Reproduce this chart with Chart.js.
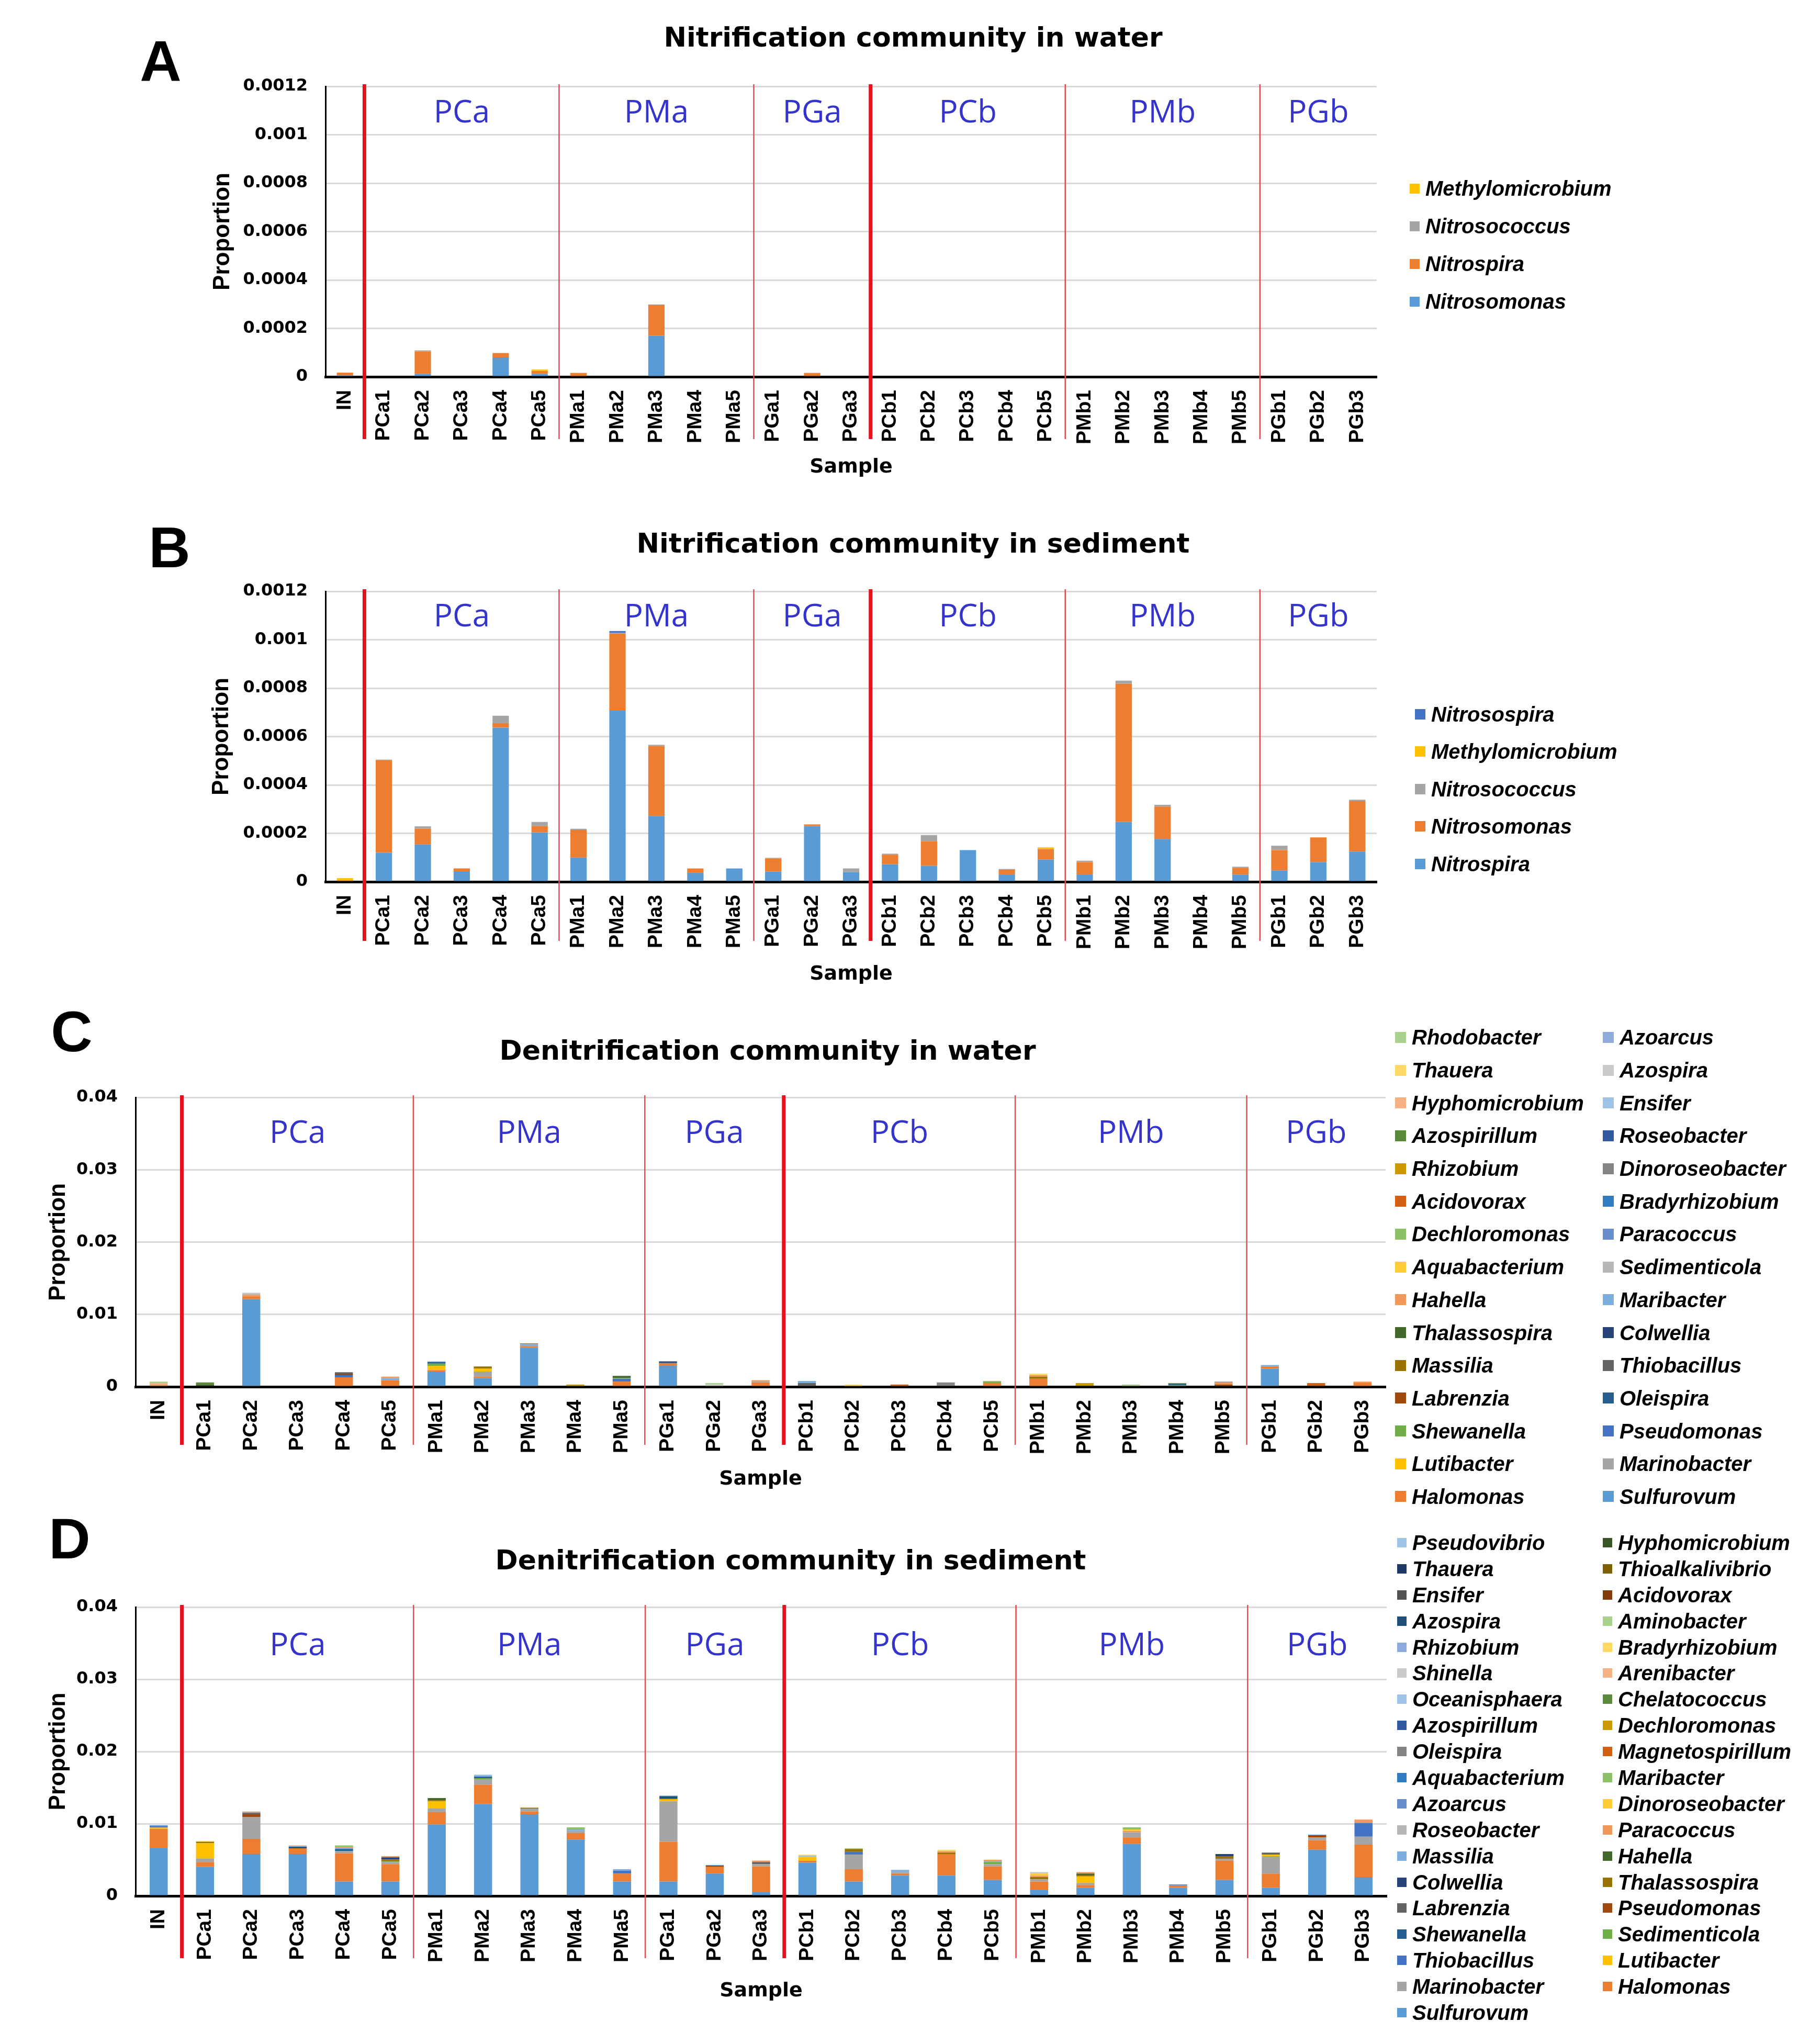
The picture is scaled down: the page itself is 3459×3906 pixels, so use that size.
<!DOCTYPE html>
<html><head><meta charset="utf-8">
<script src="https://cdn.jsdelivr.net/npm/chart.js@4.4.1/dist/chart.umd.min.js"></script>
<style>
html,body{margin:0;padding:0;background:#fff;}
body{width:3459px;height:3906px;position:relative;overflow:hidden;}
canvas{position:absolute;left:0;}
.letter{position:absolute;font-family:'Liberation Sans',Arial,sans-serif;font-weight:bold;font-size:110px;line-height:1;transform:translate(-50%,-50%);color:#000;}
.legend{position:absolute;display:grid;z-index:2;}
.li{display:flex;align-items:center;white-space:nowrap;font-family:'Liberation Sans',Arial,sans-serif;font-weight:bold;font-style:italic;font-size:40px;line-height:1;color:#000;}
.sw{flex:none;display:inline-block;}
</style></head><body>
<canvas id="cA" width="3459" height="950" style="top:0px"></canvas>
<canvas id="cB" width="3459" height="970" style="top:960px"></canvas>
<canvas id="cC" width="3459" height="960" style="top:1930px"></canvas>
<canvas id="cD" width="3459" height="1016" style="top:2890px"></canvas>
<div class="letter" style="left:307px;top:116px">A</div>
<div class="letter" style="left:324px;top:1046px">B</div>
<div class="letter" style="left:137px;top:1971px">C</div>
<div class="letter" style="left:133px;top:2940px">D</div>
<script>
// ---------------- DATA ----------------
const categories = ['IN','PCa1','PCa2','PCa3','PCa4','PCa5','PMa1','PMa2','PMa3','PMa4','PMa5','PGa1','PGa2','PGa3','PCb1','PCb2','PCb3','PCb4','PCb5','PMb1','PMb2','PMb3','PMb4','PMb5','PGb1','PGb2','PGb3'];

const nitTickValues = [0, 0.0002, 0.0004, 0.0006, 0.0008, 0.001, 0.0012];
const nitTickLabels = ['0', '0.0002', '0.0004', '0.0006', '0.0008', '0.001', '0.0012'];
const denTickValues = [0, 0.01, 0.02, 0.03, 0.04];
const denTickLabels = ['0', '0.01', '0.02', '0.03', '0.04'];

// A: Nitrification community in water (bottom to top)
const aNitrosomonas     = [0.000006, 0,0.000012,0,0.00008,0.000012, 0,0,0.00017,0,0, 0,0,0, 0,0,0,0,0, 0,0,0,0,0, 0,0,0];
const aNitrospira       = [0.000011, 0,0.000093,0,0.000018,0.000012, 0.000016,0,0.000126,0,0, 0,0.000016,0, 0,0,0,0,0, 0,0,0,0,0, 0,0,0];
const aNitrosococcus    = [0, 0,0.000004,0,0,0, 0,0,0.000003,0,0, 0,0,0, 0,0,0,0,0, 0,0,0,0,0, 0,0,0];
const aMethylomicrobium = [0, 0,0,0,0,0.000006, 0,0,0,0,0, 0,0,0, 0,0,0,0,0, 0,0,0,0,0, 0,0,0];

// B: Nitrification community in sediment (bottom to top)
const bNitrospira       = [0, 0.00012,0.000154,0.000043,0.000637,0.000204, 0.0001,0.000707,0.000272,0.000037,0.000055, 0.000042,0.00023,0.00004, 0.000072,0.000066,0.000131,0.00003,0.000092, 0.00003,0.000247,0.000177,0,0.00003, 0.000047,0.000081,0.000125];
const bNitrosomonas     = [0.000006, 0.000382,0.000065,0.000012,0.000018,0.000026, 0.000114,0.000318,0.000289,0.000018,0, 0.000054,0.000007,0, 0.00004,0.000101,0,0.00002,0.000043, 0.000051,0.000571,0.000134,0,0.000028, 0.000084,0.000102,0.000208];
const bNitrosococcus    = [0, 0.000003,0.00001,0,0.000031,0.000017, 0.000005,0.000004,0.000005,0,0, 0.000003,0,0.000015, 0.000004,0.000026,0,0.000003,0, 0.000006,0.000013,0.000007,0,0.000004, 0.000018,0,0.000006];
const bMethylomicrobium = [0.000009, 0,0,0,0,0, 0,0,0,0,0, 0,0,0, 0,0,0,0,0.000007, 0,0,0,0,0, 0,0,0];
const bNitrosospira     = [0, 0,0,0,0,0, 0,0.000007,0,0,0, 0,0,0, 0,0,0,0,0, 0,0,0,0,0, 0,0,0];

// C: Denitrification community in water (bottom to top)
const cSulfurovum      = [0, 0,0.0121,0,0,0.0001, 0.0021,0.0012,0.0054,0,0, 0.0029,0,0, 0,0,0,0,0, 0,0,0,0,0, 0.0025,0,0];
const cHalomonas       = [0, 0,0.0004,0,0.0013,0.0008, 0.0002,0.0002,0.0002,0,0.0007, 0.0003,0,0.0006, 0,0,0,0,0.0005, 0.0011,0,0,0,0, 0.0003,0,0.0005];
const cMarinobacter    = [0, 0,0,0,0,0, 0,0.0007,0,0,0, 0,0,0.0001, 0,0,0,0,0, 0,0,0,0,0, 0,0,0];
const cLutibacter      = [0, 0,0,0,0,0, 0.0006,0.0004,0,0,0, 0,0,0, 0,0,0,0,0, 0,0,0,0,0, 0,0,0];
const cPseudomonas     = [0, 0,0,0,0.0003,0, 0,0,0,0,0.0004, 0,0,0, 0,0,0,0,0, 0,0,0,0,0, 0,0,0];
const cShewanella      = [0, 0,0,0,0,0, 0.0003,0,0,0,0.0001, 0,0,0, 0,0,0,0,0.0002, 0,0,0,0.0002,0, 0,0,0];
const cOleispira       = [0, 0,0,0,0,0, 0.0002,0,0,0,0, 0,0,0, 0,0,0,0,0, 0,0,0,0.0002,0, 0,0,0];
const cLabrenzia       = [0, 0,0,0,0.0002,0, 0,0,0,0,0, 0,0,0, 0.0001,0,0.0001,0,0, 0,0,0,0,0.0003, 0,0.0002,0];
const cThiobacillus    = [0, 0,0,0,0.0002,0, 0,0,0,0,0, 0.0001,0,0, 0.0004,0,0,0.0002,0, 0,0,0,0,0, 0,0,0];
const cMassilia        = [0, 0,0,0,0,0, 0,0.0003,0,0.0001,0, 0,0,0, 0,0,0,0,0, 0.0003,0.0002,0,0,0, 0,0,0];
const cColwellia       = [0, 0,0,0,0,0, 0,0,0,0,0, 0.0002,0,0, 0,0,0,0,0, 0,0,0,0,0, 0,0,0];
const cThalassospira   = [0, 0.0003,0,0,0,0, 0,0,0,0,0.0003, 0,0,0, 0,0,0,0,0, 0,0,0,0,0, 0,0,0];
const cMaribacter      = [0, 0,0,0,0,0.0003, 0.0001,0,0.0003,0,0, 0,0,0, 0.0003,0,0,0,0, 0,0,0,0,0, 0.0002,0,0];
const cHahella         = [0.0003, 0,0.0002,0,0,0.0002, 0,0,0,0,0, 0,0,0.0002, 0,0,0,0,0.0001, 0.0002,0,0,0,0.0003, 0,0,0.0002];
const cSedimenticola   = [0, 0,0.0002,0,0,0, 0,0,0,0,0, 0,0.0002,0, 0,0,0,0,0, 0,0,0,0,0, 0,0,0];
const cAquabacterium   = [0, 0,0,0,0,0, 0,0,0,0,0, 0,0,0, 0,0.0002,0,0,0, 0,0,0,0,0, 0,0,0];
const cParacoccus      = [0, 0,0,0,0,0, 0,0,0,0,0, 0,0,0, 0,0,0,0,0, 0,0,0,0,0, 0,0,0];
const cDechloromonas   = [0, 0,0,0,0,0, 0,0,0,0,0, 0,0,0, 0,0,0,0,0, 0,0,0.0002,0,0, 0,0,0];
const cBradyrhizobium  = [0, 0,0,0,0,0, 0,0,0,0,0, 0,0,0, 0,0,0,0,0, 0,0,0,0,0, 0,0,0];
const cAcidovorax      = [0, 0,0,0,0,0, 0,0,0.0001,0,0, 0,0,0, 0,0,0.0002,0,0, 0,0,0,0,0, 0,0.0003,0];
const cDinoroseobacter = [0, 0,0,0,0,0, 0,0,0,0,0, 0,0,0, 0,0,0,0.0004,0, 0,0,0,0,0.0001, 0,0,0];
const cRhizobium       = [0, 0,0,0,0,0, 0,0,0,0.0002,0, 0,0,0, 0,0,0,0,0, 0,0.0003,0,0,0, 0,0,0];
const cRoseobacter     = [0, 0,0,0,0,0, 0,0,0,0,0, 0,0,0, 0,0,0,0,0, 0,0,0,0,0, 0,0,0];
const cAzospirillum    = [0, 0.0003,0,0,0,0, 0,0,0,0,0, 0,0,0, 0,0,0,0,0, 0,0,0,0.0001,0, 0,0,0];
const cEnsifer         = [0, 0,0,0,0,0, 0,0,0,0,0, 0,0,0, 0,0,0,0,0, 0,0,0,0,0, 0,0,0];
const cHyphomicrobium  = [0.0002, 0,0,0,0,0, 0,0,0,0,0, 0,0,0, 0,0,0,0,0, 0,0,0,0,0, 0,0,0];
const cAzospira        = [0, 0,0.0001,0,0,0, 0,0,0,0,0, 0,0.0001,0, 0,0,0,0,0, 0,0,0,0,0, 0,0,0];
const cThauera         = [0, 0,0,0,0,0, 0,0,0,0,0, 0,0,0, 0,0.0001,0,0,0, 0.0002,0,0,0,0, 0,0,0];
const cAzoarcus        = [0, 0,0,0,0,0, 0,0,0,0,0, 0,0,0, 0,0,0,0,0, 0,0,0,0,0, 0,0,0];
const cRhodobacter     = [0.0002, 0,0,0,0,0, 0,0,0,0,0, 0,0.0002,0, 0,0,0,0,0, 0,0,0.0001,0,0, 0,0,0];

// D: Denitrification community in sediment (bottom to top)
const dSulfurovum      = [0.0066, 0.0040,0.0058,0.0058,0.0020,0.0020, 0.0099,0.0127,0.0113,0.0078,0.0020, 0.0020,0.0031,0.0005, 0.0046,0.0020,0.0028,0.0028,0.0022, 0.0008,0.0011,0.0072,0.0011,0.0022, 0.0011,0.0064,0.0026];
const dHalomonas       = [0.0027, 0.0007,0.0021,0.0008,0.0039,0.0024, 0.0017,0.0027,0.0004,0.0009,0.0011, 0.0055,0.0009,0.0036, 0.0003,0.0017,0.0003,0.0030,0.0019, 0.0012,0.0004,0.0009,0.0003,0.0027, 0.0020,0.0013,0.0045];
const dMarinobacter    = [0, 0.0005,0.0030,0,0.0003,0.0003, 0.0005,0.0007,0.0004,0.0003,0, 0.0056,0,0.0003, 0,0.0020,0.0002,0,0.0003, 0.0003,0.0003,0.0007,0,0.0002, 0.0024,0.0004,0.0011];
const dLutibacter      = [0.00015, 0.0021,0,0,0,0, 0.0010,0,0,0,0, 0.0003,0,0, 0.0005,0,0,0,0, 0,0.0009,0,0,0, 0.0002,0,0];
const dThiobacillus    = [0.00015, 0,0,0,0,0, 0,0,0,0,0.0004, 0,0,0, 0,0.0004,0,0,0, 0,0,0,0,0, 0,0,0.0019];
const dSedimenticola   = [0, 0,0,0,0,0.0001, 0,0.0002,0,0,0, 0,0,0, 0,0,0,0,0.0003, 0,0,0,0,0, 0,0,0];
const dShewanella      = [0, 0,0,0,0.0003,0, 0,0.0002,0,0,0, 0.0001,0,0, 0,0,0,0,0, 0,0,0,0,0, 0,0,0];
const dPseudomonas     = [0, 0,0.0004,0,0,0, 0,0,0,0,0, 0,0.0002,0, 0,0,0,0,0, 0,0,0,0,0, 0,0.0003,0];
const dLabrenzia       = [0, 0,0.0002,0,0,0, 0,0,0.0001,0,0, 0,0,0.0003, 0,0,0,0,0, 0,0,0,0,0, 0.0003,0,0];
const dThalassospira   = [0, 0.0002,0,0,0,0.00025, 0.00015,0,0,0,0, 0,0,0, 0,0.0004,0,0.0002,0, 0.0003,0.0002,0,0,0.0004, 0,0,0];
const dColwellia       = [0.0001, 0,0,0.0002,0,0.0003, 0,0,0,0,0, 0.0003,0,0, 0,0,0,0,0, 0,0,0,0,0.0003, 0,0,0];
const dHahella         = [0, 0,0,0,0,0, 0.0003,0,0,0,0, 0,0,0, 0,0,0,0,0, 0,0.0002,0,0,0, 0,0,0];
const dMassilia        = [0.0001, 0,0,0.0001,0.0001,0, 0,0.0002,0,0.0002,0.0002, 0.0001,0.0001,0, 0,0,0.0003,0,0.0001, 0,0,0,0,0, 0,0.0001,0];
const dParacoccus      = [0, 0,0.0001,0.0001,0.0002,0.00015, 0,0,0,0,0, 0,0,0.0002, 0,0,0,0.0002,0.0002, 0.0002,0.0002,0.0002,0,0, 0,0,0.0004];
const dRoseobacter     = [0, 0,0.0001,0,0,0, 0,0,0,0,0, 0,0,0, 0,0,0,0,0, 0,0,0,0,0, 0,0,0];
const dDinoroseobacter = [0, 0,0,0,0,0, 0,0,0,0,0, 0,0,0, 0,0,0,0,0, 0.0003,0,0.0002,0,0, 0,0,0];
const dAzoarcus        = [0, 0,0,0,0,0, 0,0,0,0,0, 0,0,0, 0,0,0,0,0, 0,0,0,0.0002,0, 0,0,0];
const dMaribacter      = [0, 0,0,0,0.0002,0, 0,0,0,0.0003,0, 0,0,0, 0,0,0,0,0, 0,0,0.0003,0,0, 0,0,0];
const dAquabacterium   = [0, 0,0,0,0,0, 0,0,0,0,0, 0,0,0, 0,0,0,0,0, 0,0,0,0,0, 0,0,0];
const dMagnetospirillum= [0, 0,0,0,0,0, 0,0,0,0,0, 0,0,0, 0,0,0,0,0, 0,0,0,0,0, 0,0,0];
const dOleispira       = [0, 0,0,0,0,0, 0,0,0,0,0, 0,0,0, 0,0,0,0,0, 0,0,0,0,0, 0,0,0];
const dDechloromonas   = [0, 0,0,0,0,0, 0,0,0,0,0, 0,0,0, 0,0,0,0,0, 0,0,0,0,0, 0,0,0];
const dAzospirillum    = [0, 0,0,0,0,0, 0,0,0,0,0, 0,0,0, 0,0,0,0,0, 0,0,0,0,0, 0,0,0];
const dChelatococcus   = [0, 0,0,0,0,0, 0,0,0,0,0, 0,0,0, 0,0,0,0,0, 0,0,0,0,0, 0,0,0];
const dOceanisphaera   = [0, 0,0,0,0,0, 0,0.0001,0,0,0, 0,0,0, 0.0002,0,0,0,0, 0,0,0,0,0, 0,0,0];
const dArenibacter     = [0, 0,0,0,0,0, 0,0,0,0,0, 0,0,0, 0,0,0,0,0, 0,0,0,0,0, 0,0,0.0001];
const dShinella        = [0, 0,0,0,0,0, 0,0,0,0,0, 0,0,0, 0,0,0,0,0, 0.0002,0,0,0,0, 0,0,0];
const dBradyrhizobium  = [0, 0.0001,0,0,0,0, 0,0,0.0001,0,0, 0,0,0, 0.0001,0,0,0.0002,0, 0,0,0,0,0, 0,0,0];
const dRhizobium       = [0, 0,0,0,0,0, 0,0,0,0,0, 0,0,0, 0,0,0,0,0, 0,0,0,0,0, 0,0,0];
const dAminobacter     = [0, 0,0,0,0,0, 0,0,0,0,0, 0,0,0, 0,0.0001,0,0,0, 0,0,0,0,0, 0,0,0];
const dAzospira        = [0, 0,0,0,0,0, 0,0,0,0,0, 0,0,0, 0,0,0,0,0, 0,0,0,0,0, 0,0,0];
const dAcidovorax      = [0, 0,0,0,0,0, 0,0,0,0,0, 0,0,0, 0,0,0,0,0, 0,0,0,0,0, 0,0,0];
const dEnsifer         = [0, 0,0,0,0,0, 0,0,0,0,0, 0,0,0, 0,0,0,0,0, 0,0,0,0,0, 0,0,0];
const dThioalkalivibrio= [0, 0,0,0,0,0, 0,0,0,0,0, 0,0,0, 0,0,0,0,0, 0,0,0,0,0, 0,0,0];
const dThauera         = [0, 0,0,0,0,0, 0,0,0,0,0, 0,0,0, 0,0,0,0,0, 0,0,0,0,0, 0,0,0];
const dHyphomicrobium  = [0, 0,0,0,0,0, 0,0,0,0,0, 0,0,0, 0,0,0,0,0, 0,0,0,0,0, 0,0,0];
const dPseudovibrio    = [0, 0,0,0,0,0, 0,0,0,0,0, 0,0,0, 0,0,0,0,0, 0,0,0,0,0, 0,0,0];

// ---------------- SERIES TABLES (name, values) ----------------
const seriesA = [['Nitrosomonas', aNitrosomonas], ['Nitrospira', aNitrospira], ['Nitrosococcus', aNitrosococcus], ['Methylomicrobium', aMethylomicrobium]];
const seriesB = [['Nitrospira', bNitrospira], ['Nitrosomonas', bNitrosomonas], ['Nitrosococcus', bNitrosococcus], ['Methylomicrobium', bMethylomicrobium], ['Nitrosospira', bNitrosospira]];
const seriesC = [
  ['Sulfurovum', cSulfurovum], ['Halomonas', cHalomonas], ['Marinobacter', cMarinobacter], ['Lutibacter', cLutibacter],
  ['Pseudomonas', cPseudomonas], ['Shewanella', cShewanella], ['Oleispira', cOleispira], ['Labrenzia', cLabrenzia],
  ['Thiobacillus', cThiobacillus], ['Massilia', cMassilia], ['Colwellia', cColwellia], ['Thalassospira', cThalassospira],
  ['Maribacter', cMaribacter], ['Hahella', cHahella], ['Sedimenticola', cSedimenticola], ['Aquabacterium', cAquabacterium],
  ['Paracoccus', cParacoccus], ['Dechloromonas', cDechloromonas], ['Bradyrhizobium', cBradyrhizobium], ['Acidovorax', cAcidovorax],
  ['Dinoroseobacter', cDinoroseobacter], ['Rhizobium', cRhizobium], ['Roseobacter', cRoseobacter], ['Azospirillum', cAzospirillum],
  ['Ensifer', cEnsifer], ['Hyphomicrobium', cHyphomicrobium], ['Azospira', cAzospira], ['Thauera', cThauera],
  ['Azoarcus', cAzoarcus], ['Rhodobacter', cRhodobacter]
];
const seriesD = [
  ['Sulfurovum', dSulfurovum], ['Halomonas', dHalomonas], ['Marinobacter', dMarinobacter], ['Lutibacter', dLutibacter],
  ['Thiobacillus', dThiobacillus], ['Sedimenticola', dSedimenticola], ['Shewanella', dShewanella], ['Pseudomonas', dPseudomonas],
  ['Labrenzia', dLabrenzia], ['Thalassospira', dThalassospira], ['Colwellia', dColwellia], ['Hahella', dHahella],
  ['Massilia', dMassilia], ['Paracoccus', dParacoccus], ['Roseobacter', dRoseobacter], ['Dinoroseobacter', dDinoroseobacter],
  ['Azoarcus', dAzoarcus], ['Maribacter', dMaribacter], ['Aquabacterium', dAquabacterium], ['Magnetospirillum', dMagnetospirillum],
  ['Oleispira', dOleispira], ['Dechloromonas', dDechloromonas], ['Azospirillum', dAzospirillum], ['Chelatococcus', dChelatococcus],
  ['Oceanisphaera', dOceanisphaera], ['Arenibacter', dArenibacter], ['Shinella', dShinella], ['Bradyrhizobium', dBradyrhizobium],
  ['Rhizobium', dRhizobium], ['Aminobacter', dAminobacter], ['Azospira', dAzospira], ['Acidovorax', dAcidovorax],
  ['Ensifer', dEnsifer], ['Thioalkalivibrio', dThioalkalivibrio], ['Thauera', dThauera], ['Hyphomicrobium', dHyphomicrobium],
  ['Pseudovibrio', dPseudovibrio]
];

// ---------------- STYLE ----------------
const palette = ['#5B9BD5','#ED7D31','#A5A5A5','#FFC000','#4472C4','#70AD47','#255E91','#9E480E','#636363','#997300','#264478','#43682B','#7CAFDD','#F1975A','#B7B7B7','#FFCD33','#698ED0','#8CC168','#327DC2','#D26012','#848484','#CC9A00','#335AA1','#5A8A39','#9DC3E6','#F4B183','#C9C9C9','#FFD966','#8FAADC','#A9D18E','#1F4E79','#843C0C','#525252','#7F6000','#203864','#375623','#A0C4E8'];
const paletteB = ['#5B9BD5','#ED7D31','#A5A5A5','#FFC000','#4472C4'];

Chart.defaults.font.family = "'DejaVu Sans'";
Chart.defaults.color = '#000';

const groupPlugin = {
  id: 'groups',
  afterDraw(chart, args, o) {
    const {ctx, chartArea: ca, scales: {x}} = chart;
    const labels = chart.data.labels;
    const grp = labels.map(l => l.replace(/\d+$/, ''));
    ctx.save();
    for (let i = 1; i < labels.length; i++) {
      if (grp[i] === grp[i - 1]) continue;
      const px = (x.getPixelForValue(i - 1) + x.getPixelForValue(i)) / 2;
      const thick = grp[i - 1] === 'IN' || grp[i - 1].slice(-1) !== grp[i].slice(-1);
      ctx.strokeStyle = thick ? '#E3121C' : '#E44A52';
      ctx.lineWidth = thick ? 7 : 2.5;
      ctx.beginPath();
      ctx.moveTo(px, ca.top - 4);
      ctx.lineTo(px, ca.bottom + o.extend);
      ctx.stroke();
    }
    ctx.font = "60px 'Open Sans'";
    ctx.fillStyle = '#3434CC';
    ctx.textAlign = 'center';
    ctx.textBaseline = 'middle';
    let s = 0;
    for (let i = 1; i <= labels.length; i++) {
      if (i === labels.length || grp[i] !== grp[s]) {
        if (grp[s] !== 'IN') {
          const cx = (x.getPixelForValue(s) + x.getPixelForValue(i - 1)) / 2;
          ctx.fillText(grp[s], cx, ca.top + o.labelOffset);
        }
        s = i;
      }
    }
    ctx.restore();
  }
};

function buildLegend(chart, lg) {
  const el = document.createElement('div');
  el.className = 'legend';
  el.style.left = lg.left + 'px';
  el.style.top = lg.top + 'px';
  el.style.gridTemplateColumns = 'repeat(' + lg.cols + ', ' + lg.colW + 'px)';
  el.style.gridAutoRows = lg.rowH + 'px';
  const items = Chart.defaults.plugins.legend.labels.generateLabels(chart).reverse();
  for (const it of items) {
    const li = document.createElement('div');
    li.className = 'li';
    const sw = document.createElement('span');
    sw.className = 'sw';
    sw.style.width = lg.sw + 'px';
    sw.style.height = lg.sw + 'px';
    sw.style.background = it.fillStyle;
    sw.style.marginRight = '11px';
    const tx = document.createElement('span');
    tx.textContent = it.text;
    li.append(sw, tx);
    el.append(li);
  }
  document.body.append(el);
}

function makeChart(id, cfg) {
  const datasets = cfg.series.map(([label, data], i) => ({
    label, data, backgroundColor: cfg.colors[i], borderWidth: 0,
    barPercentage: cfg.barPct, categoryPercentage: 1, stack: 's'
  }));
  const chart = new Chart(document.getElementById(id), {
    type: 'bar',
    data: {labels: categories, datasets},
    plugins: [groupPlugin],
    options: {
      responsive: false, animation: false, devicePixelRatio: 1, events: [],
      layout: {padding: {left: cfg.padL, right: cfg.padR, top: 0, bottom: 0}},
      plugins: {
        legend: {display: false},
        tooltip: {enabled: false},
        title: {display: true, text: cfg.title, color: '#000',
          font: {family: "'DejaVu Sans'", weight: 'bold', size: 52},
          padding: {top: cfg.titleT, bottom: cfg.titleB}},
        groups: {extend: cfg.extend, labelOffset: cfg.labelOffset}
      },
      scales: {
        x: {
          stacked: true,
          grid: {display: false, drawTicks: false},
          border: {display: true, color: '#000', width: 5},
          ticks: {autoSkip: false, maxRotation: 90, minRotation: 90, padding: 25, color: '#000',
            font: {family: "'Liberation Sans'", weight: 'bold', size: 39}},
          title: {display: true, text: 'Sample', color: '#000',
            font: {family: "'DejaVu Sans'", weight: 'bold', size: 38},
            padding: {top: 0, bottom: cfg.sampleB}},
          afterFit: s => { s.height = cfg.xH; }
        },
        y: {
          stacked: true, min: 0, max: cfg.ticks[cfg.ticks.length - 1],
          afterBuildTicks: s => { s.ticks = cfg.ticks.map(v => ({value: v})); },
          grid: {color: '#D9D9D9', lineWidth: 3, drawTicks: false},
          border: {display: true, color: '#000', width: 3},
          ticks: {padding: 34, color: '#000', callback: (v, i) => cfg.tickLabels[i],
            font: {family: "'DejaVu Sans'", weight: 'bold', size: 32}},
          title: {display: true, text: 'Proportion', color: '#000',
            font: {family: "'Liberation Sans'", weight: 'bold', size: 44},
            padding: {top: cfg.propT, bottom: 0}},
          afterFit: s => { s.width = cfg.yW; }
        },
        yR: {
          position: 'right', display: true,
          grid: {display: false, drawTicks: false}, border: {display: false},
          ticks: {display: false},
          afterFit: s => { s.width = cfg.rightW; }
        }
      }
    }
  });
  buildLegend(chart, cfg.legend);
  return chart;
}

makeChart('cA', {
  series: seriesA, colors: paletteB, title: 'Nitrification community in water',
  ticks: nitTickValues, tickLabels: nitTickLabels, barPct: 0.42,
  padL: 31, padR: 0, yW: 591, rightW: 828, titleT: 43.8, titleB: 58.8, xH: 230, sampleB: 34,
  propT: 368, extend: 119, labelOffset: 52,
  legend: {left: 2694, top: 324, cols: 1, colW: 700, rowH: 72, sw: 19}
});
makeChart('cB', {
  series: seriesB, colors: paletteB, title: 'Nitrification community in sediment',
  ticks: nitTickValues, tickLabels: nitTickLabels, barPct: 0.42,
  padL: 31, padR: 0, yW: 591, rightW: 828, titleT: 50.8, titleB: 56.8, xH: 245, sampleB: 45,
  propT: 366, extend: 113, labelOffset: 50,
  legend: {left: 2704, top: 1329, cols: 1, colW: 700, rowH: 71.5, sw: 20}
});
makeChart('cC', {
  series: seriesC, colors: palette, title: 'Denitrification community in water',
  ticks: denTickValues, tickLabels: denTickLabels, barPct: 0.39,
  padL: 0, padR: 525, yW: 259, rightW: 286, titleT: 49.8, titleB: 54.8, xH: 240, sampleB: 40,
  propT: 85, extend: 111, labelOffset: 70,
  legend: {left: 2666, top: 1951, cols: 2, colW: 397, rowH: 62.7, sw: 21}
});
makeChart('cD', {
  series: seriesD, colors: palette, title: 'Denitrification community in sediment',
  ticks: denTickValues, tickLabels: denTickLabels, barPct: 0.39,
  padL: 0, padR: 437, yW: 259, rightW: 372, titleT: 63.8, titleB: 54.8, xH: 283, sampleB: 78,
  propT: 85, extend: 119, labelOffset: 75,
  legend: {left: 2670, top: 2923, cols: 2, colW: 393, rowH: 49.9, sw: 18}
});
</script>
</body></html>
